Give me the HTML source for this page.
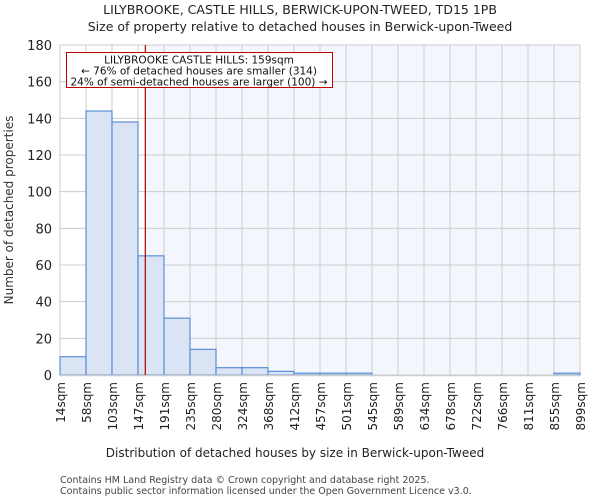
<!DOCTYPE html>
<html><head><meta charset="utf-8"><style>
body{margin:0;background:#fff;font-family:"DejaVu Sans","Liberation Sans",sans-serif}
svg text{font-family:"DejaVu Sans","Liberation Sans",sans-serif}
</style></head><body>
<svg id="c" width="600" height="500" xmlns="http://www.w3.org/2000/svg">
<text x="300" y="14" text-anchor="middle" font-size="12.5" fill="#222">LILYBROOKE, CASTLE HILLS, BERWICK-UPON-TWEED, TD15 1PB</text>
<text x="300" y="31" text-anchor="middle" font-size="12.5" fill="#222">Size of property relative to detached houses in Berwick-upon-Tweed</text>
<g id="plot"></g>
<text x="295" y="457" text-anchor="middle" font-size="12" fill="#222">Distribution of detached houses by size in Berwick-upon-Tweed</text>
<text transform="translate(13,210) rotate(-90)" text-anchor="middle" font-size="12" fill="#333">Number of detached properties</text>
<text x="60" y="483" font-size="9.5" fill="#444">Contains HM Land Registry data © Crown copyright and database right 2025.</text>
<text x="60" y="494" font-size="9.5" fill="#444">Contains public sector information licensed under the Open Government Licence v3.0.</text>
</svg>
<script>
const binLabels=["14sqm","58sqm","103sqm","147sqm","191sqm","235sqm","280sqm","324sqm","368sqm","412sqm","457sqm","501sqm","545sqm","589sqm","634sqm","678sqm","722sqm","766sqm","811sqm","855sqm","899sqm"];
const binEdges=[14,58.2,102.4,146.6,190.8,235,279.2,323.4,367.6,411.8,456,500.2,544.4,588.6,632.8,677,721.2,765.4,809.6,853.8,898];
const counts=[10,144,138,65,31,14,4,4,2,1,1,1,0,0,0,0,0,0,0,1];
const yTicks=[0,20,40,60,80,100,120,140,160,180];
const subjectSize=159;
const annotationLines=["LILYBROOKE CASTLE HILLS: 159sqm","← 76% of detached houses are smaller (314)","24% of semi-detached houses are larger (100) →"];
const L=60,R=580,T=45,B=375,NS="http://www.w3.org/2000/svg";
const x=v=>L+(v-binEdges[0])/(binEdges[binEdges.length-1]-binEdges[0])*(R-L);
const y=v=>B-v/180*(B-T);
const g=document.getElementById('plot');
function mk(t,a){const e=document.createElementNS(NS,t);for(const k in a)e.setAttribute(k,a[k]);g.appendChild(e);return e;}
const sx=x(subjectSize);
let e=mk('rect',{x:sx,y:T,width:R-sx,height:B-T,fill:'#f3f6fd'});


yTicks.forEach(t=>{let l=mk('line',{x1:L,x2:R,y1:y(t),y2:y(t),stroke:'#ccc','stroke-width':1});


let tx=mk('text',{x:L-8,y:y(t)+5,'text-anchor':'end','font-size':13,fill:'#222'});tx.textContent=t;

});
binEdges.forEach((b,i)=>{let l=mk('line',{x1:x(b),x2:x(b),y1:T,y2:B,stroke:'#ccc','stroke-width':1});


let tx=mk('text',{transform:`translate(${x(b)+5},382) rotate(-90)`,'text-anchor':'end','font-size':12,fill:'#222'});tx.textContent=binLabels[i];

});
counts.forEach((c,i)=>{if(c<=0)return;let r=mk('rect',{x:x(binEdges[i]),y:y(c),width:x(binEdges[i+1])-x(binEdges[i]),height:B-y(c),fill:'#dae4f4',stroke:'#5b8fd6','stroke-width':1.2});

});
let ax=mk('line',{x1:L,x2:R,y1:B+0.5,y2:B+0.5,stroke:'#ccc','stroke-width':1.5});


let rl=mk('line',{x1:sx,x2:sx,y1:T,y2:B,stroke:'#b00000','stroke-width':1.2});


let bx=mk('rect',{x:66.5,y:52.5,width:266,height:35,fill:'#fff',stroke:'#c00000','stroke-width':1});


annotationLines.forEach((s,i)=>{let t=mk('text',{x:199,y:63.5+i*11,'text-anchor':'middle','font-size':10.5,fill:'#111'});t.textContent=s;

});
</script>
</body></html>
